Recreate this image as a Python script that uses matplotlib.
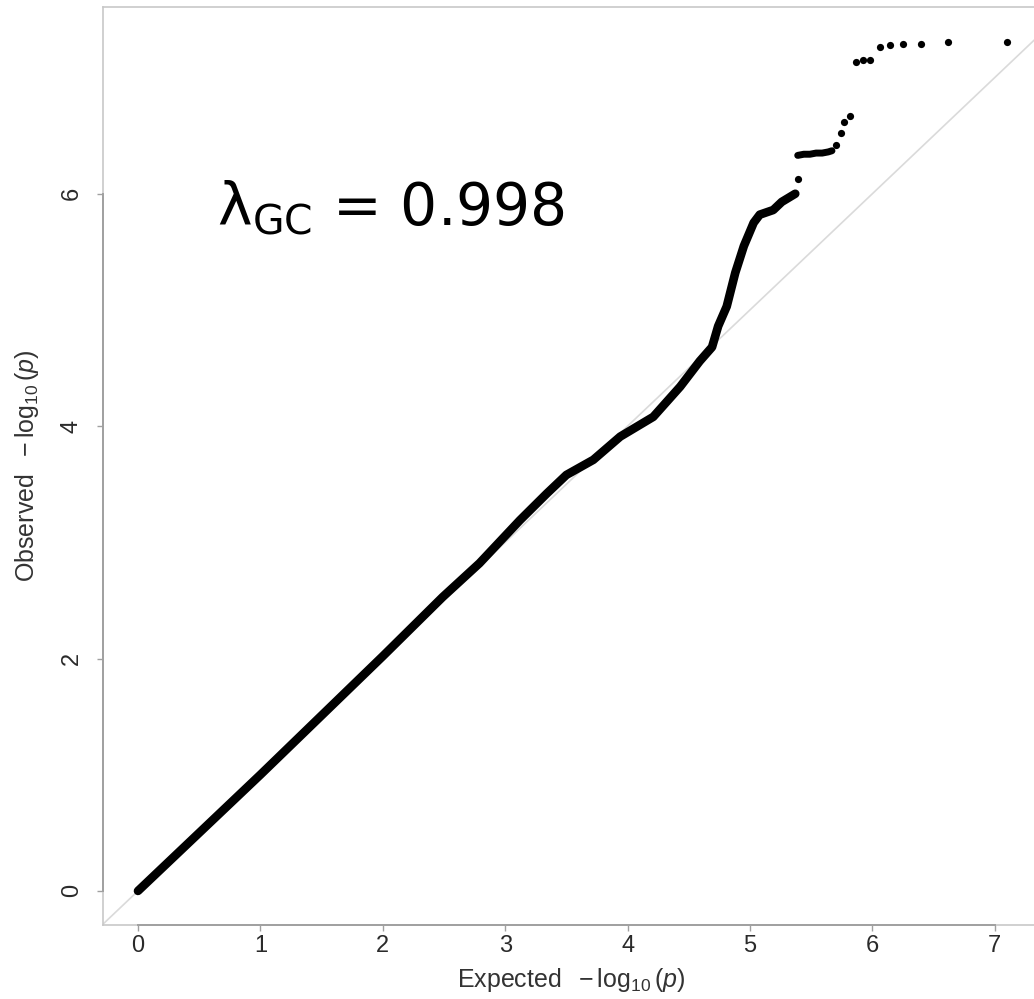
import matplotlib.pyplot as plt

plt.rcParams['font.family'] = ['Liberation Sans', 'DejaVu Sans']
plt.rcParams['mathtext.fontset'] = 'custom'
plt.rcParams['mathtext.rm'] = 'Liberation Sans'
plt.rcParams['mathtext.it'] = 'Liberation Sans:italic'

# dense part of the QQ curve
expected_body = [0.0, 0.5, 1.0, 1.5, 2.0, 2.49, 2.79, 3.12, 3.34, 3.50, 3.72,
                 3.94, 4.21, 4.43, 4.59, 4.69, 4.74, 4.81, 4.88, 4.95, 5.03,
                 5.08, 5.19, 5.26, 5.37]
observed_body = [0.0, 0.5, 1.0, 1.51, 2.02, 2.53, 2.82, 3.19, 3.42, 3.58, 3.71,
                 3.91, 4.08, 4.34, 4.56, 4.68, 4.86, 5.03, 5.32, 5.55, 5.75,
                 5.82, 5.86, 5.93, 6.00]

# plateau just above 6.3
expected_mid = [5.39, 5.44, 5.49, 5.54, 5.59, 5.64, 5.67]
observed_mid = [6.33, 6.34, 6.34, 6.35, 6.35, 6.36, 6.37]

# single points in the upper tail
expected_tail = [5.39, 5.70, 5.74, 5.77, 5.82, 5.87, 5.92, 5.98, 6.06, 6.14,
                 6.25, 6.40, 6.62, 7.10]
observed_tail = [6.13, 6.42, 6.52, 6.62, 6.67, 7.13, 7.15, 7.15, 7.26, 7.28,
                 7.29, 7.29, 7.31, 7.31]

lambda_gc = 0.998

fig = plt.figure(figsize=(10.34, 9.99), dpi=100)
ax = fig.add_axes([0.0996, 0.0741, 0.9072, 0.919])

ax.axline((0, 0), slope=1, color='#dadada', lw=1.2, zorder=1)

ax.plot(expected_body, observed_body, color='black', lw=6.2,
        solid_capstyle='round', solid_joinstyle='round', zorder=2)
ax.plot(expected_mid, observed_mid, color='black', lw=5,
        solid_capstyle='round', zorder=2)
ax.plot(expected_tail, observed_tail, 'o', color='black', ms=5.2, mew=0,
        zorder=2)

ax.text(0.645, 5.73, r'$\mathregular{λ_{GC}}$ = ' + f'{lambda_gc:.3f}',
        fontsize=42, family='DejaVu Sans', ha='left', va='baseline')

ax.set_xlim(-0.286, 7.378)
ax.set_ylim(-0.293, 7.608)
ax.set_xticks(range(0, 8))
ax.set_yticks([0, 2, 4, 6])

for s in ax.spines.values():
    s.set_color('#c8c8c8')
    s.set_linewidth(1.2)

# R-style axis lines between the outer ticks
ax.plot([0, 7], [0, 0], transform=ax.get_xaxis_transform(), color='#a0a0a0',
        lw=1.4, clip_on=False, zorder=5)
ax.plot([0, 0], [0, 6], transform=ax.get_yaxis_transform(), color='#a0a0a0',
        lw=1.4, clip_on=False, zorder=5)

ax.tick_params(length=4.5, width=1.0, color='#a0a0a0', labelsize=17,
               labelcolor='#2a2a2a')
ax.tick_params(axis='x', pad=3)
ax.tick_params(axis='y', pad=10)
for lab in ax.get_yticklabels():
    lab.set_rotation(90)
    lab.set_va('center')

ax.set_xlabel(r'Expected $\;-\log_{10}(p)$', fontsize=18, color='#333333')
ax.set_ylabel(r'Observed $\;-\log_{10}(p)$', fontsize=18, color='#333333')
ax.xaxis.set_label_coords(0.499, -0.045)
ax.yaxis.set_label_coords(-0.066, 0.5)

fig.savefig('out.png', dpi=100)
